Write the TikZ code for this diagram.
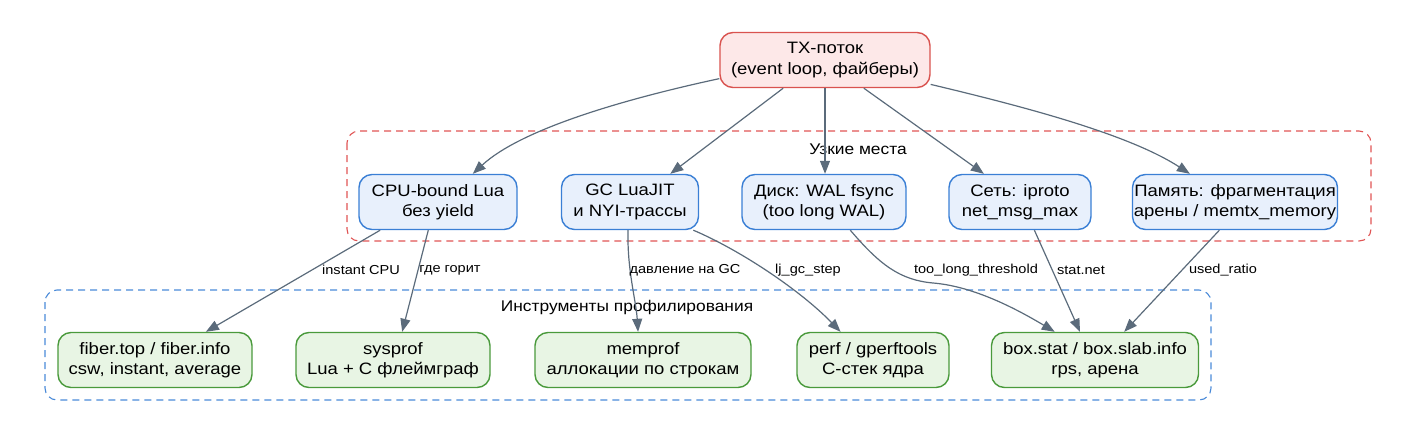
\documentclass[tikz,border=0pt]{standalone}
\usepackage{fontspec}
\setmainfont{Liberation Sans}[FakeStretch=1.12]
\usetikzlibrary{arrows.meta,calc}
\definecolor{txfill}{HTML}{FDE8E8}
\definecolor{txdraw}{HTML}{D9534F}
\definecolor{bfill}{HTML}{E8F0FC}
\definecolor{bdraw}{HTML}{3A7FD5}
\definecolor{gfill}{HTML}{E8F5E4}
\definecolor{gdraw}{HTML}{4A9A3C}
\definecolor{edgec}{HTML}{5B6B7B}
\definecolor{redcl}{HTML}{E05555}
\definecolor{bluecl}{HTML}{4A8AD8}
\tikzset{
  x=1pt,y=-1pt,
  basebox/.style={rectangle,rounded corners=13pt,line width=1.4pt,align=center,
    font=\fontsize{16.5}{20.5}\selectfont,inner sep=0pt,minimum height=55pt},
  txbox/.style={basebox,draw=txdraw,fill=txfill},
  probbox/.style={basebox,draw=bdraw,fill=bfill},
  toolbox/.style={basebox,draw=gdraw,fill=gfill},
  conn/.style={draw=edgec,line width=1.2pt,-{Triangle[length=13pt,width=10pt]}},
  elabel/.style={font=\fontsize{13}{15}\selectfont,inner sep=0pt},
  cllabel/.style={font=\fontsize{15.5}{18}\selectfont,inner sep=0pt},
  cluster/.style={rounded corners=12pt,line width=1.1pt,dash pattern=on 7pt off 5pt},
}
\begin{document}
\begin{tikzpicture}
\useasboundingbox (0,0) rectangle (1417,445);
% clusters
\draw[cluster,draw=redcl] (347,131) rectangle (1371,241);
\node[cllabel] (lblred) at (858,149) {Узкие места};
\draw[cluster,draw=bluecl] (45,290) rectangle (1211,400);
\node[cllabel] (lblblue) at (627,307) {Инструменты профилирования};
% nodes
\node[txbox,minimum width=210pt] (tx) at (825,60) {TX-поток\\(event loop, файберы)};
\node[probbox,minimum width=158pt] (cpu) at (438,202) {CPU-bound Lua\\без yield};
\node[probbox,minimum width=137pt] (gc) at (630,202) {GC LuaJIT\\и NYI-трассы};
\node[probbox,minimum width=164pt] (disk) at (824,202) {Диск: WAL fsync\\(too long WAL)};
\node[probbox,minimum width=142pt] (net) at (1020,202) {Сеть: iproto\\net\_msg\_max};
\node[probbox,minimum width=205pt] (mem) at (1235,202) {Память: фрагментация\\арены / memtx\_memory};
\node[toolbox,minimum width=194pt] (fiber) at (155,360) {fiber.top / fiber.info\\csw, instant, average};
\node[toolbox,minimum width=194pt] (sysprof) at (393,360) {sysprof\\Lua + C флеймграф};
\node[toolbox,minimum width=216pt] (memprof) at (643,360) {memprof\\аллокации по строкам};
\node[toolbox,minimum width=152pt] (perf) at (873,360) {perf / gperftools\\C-стек ядра};
\node[toolbox,minimum width=207pt] (box) at (1095,360) {box.stat / box.slab.info\\rps, арена};
% top edges
\draw[conn] (tx.190.6) .. controls (620,100) and (520,130) .. (cpu.39.5);
\draw[conn] (tx.214.3) -- (gc.35.7);
\draw[conn] (tx.south) -- (disk.north -| tx.south);
\draw[conn] (tx.324.3) -- (net.142.9);
\draw[conn] (tx.347.6) .. controls (1030,108) and (1130,135) .. (mem.148);
% bottom edges
\draw[conn] (cpu.206.6) -- (fiber.29.2);
\draw[conn] (cpu.251.6) -- (sysprof.72.2);
\draw[conn] (gc.266) .. controls (627,270) and (636,300) .. (memprof.100);
\draw[conn] (gc.336.8) .. controls (740,250) and (800,290) .. (perf.139.7);
\draw[conn] (disk.313.9) .. controls (880,265) and (900,280) .. (933,283) .. controls (970,286) and (1010,305) .. (box.145.7);
\draw[conn] (net.297.4) -- (box.118.2);
\draw[conn] (mem.241) -- (box.44);
% edge labels
\node[elabel] (l1) at (361,270) {instant CPU};
\node[elabel] (l2) at (450,270) {где горит};
\node[elabel] (l3) at (685,270) {давление на GC};
\node[elabel] (l4) at (808,270) {lj\_gc\_step};
\node[elabel] (l5) at (976,270) {too\_long\_threshold};
\node[elabel] (l6) at (1081,270) {stat.net};
\node[elabel] (l7) at (1223,270) {used\_ratio};
\end{tikzpicture}
\end{document}
